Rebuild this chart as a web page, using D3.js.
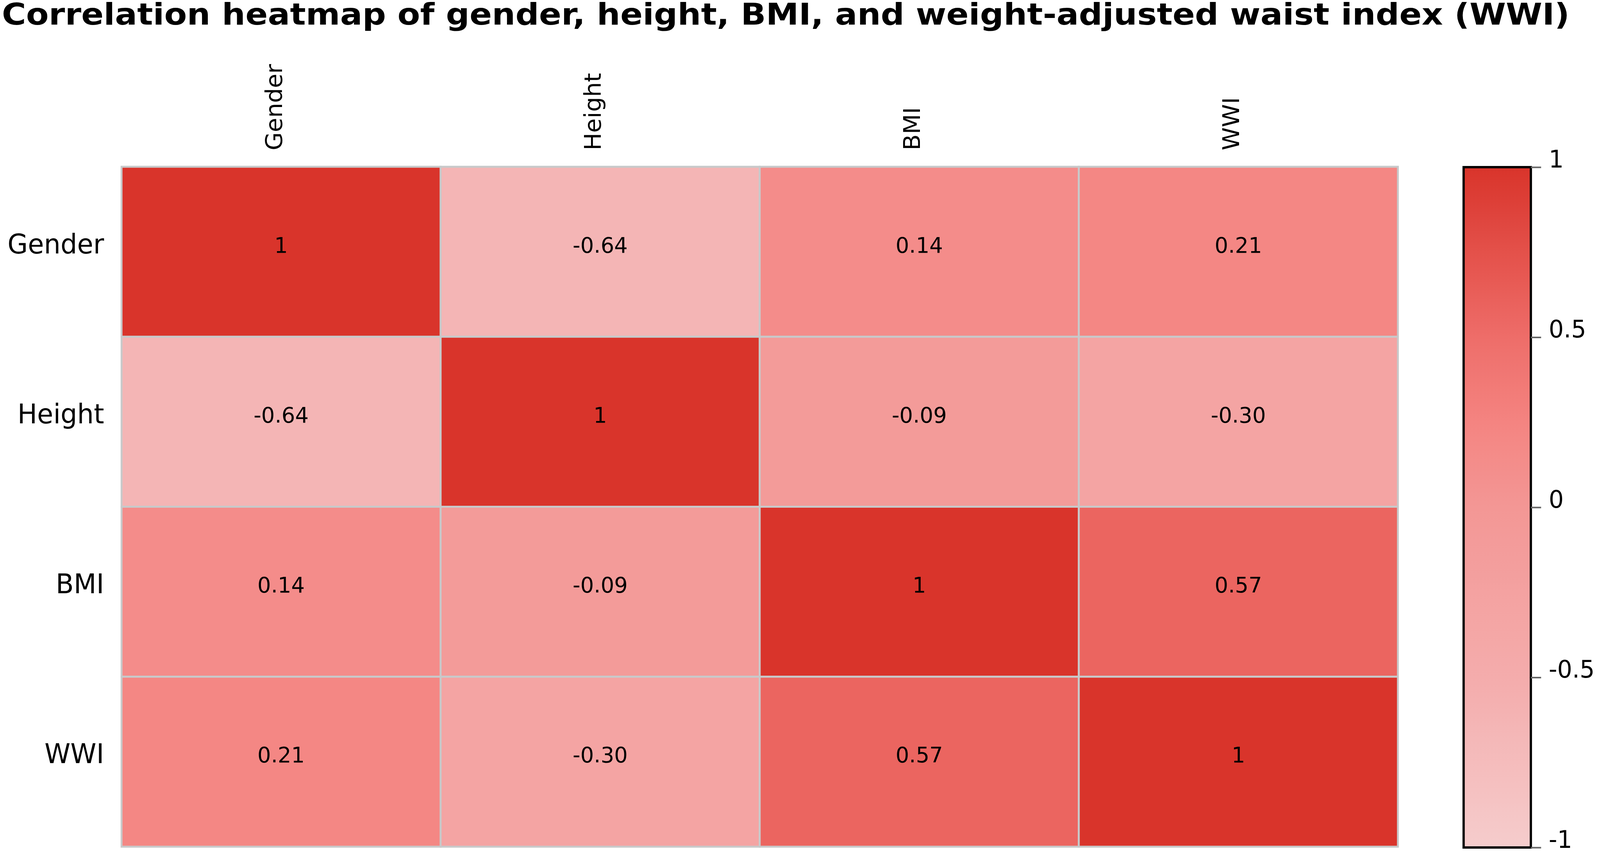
<!DOCTYPE html>
<html>
<head>
<meta charset="utf-8">
<script src="https://cdn.jsdelivr.net/npm/d3@7"></script>
<style>
  html, body { margin: 0; padding: 0; width: 100%; height: 100%; overflow: hidden; background: #fff; }
  svg { display: block; }
  text { font-family: "DejaVu Sans", sans-serif; }
</style>
</head>
<body>
<script>
// correlation heatmap, drawn with d3

// data
var variables = ["Gender", "Height", "BMI", "WWI"];
var genderRow = [1, -0.64, 0.14, 0.21];
var heightRow = [-0.64, 1, -0.09, -0.30];
var bmiRow = [0.14, -0.09, 1, 0.57];
var wwiRow = [0.21, -0.30, 0.57, 1];
var legendTicks = [1, 0.5, 0, -0.5, -1];

window.onload = function(){
    var width = 4212, height = 2179;

    // viewBox so the drawing fits the window whatever its inner size
    var svg = d3.select("body")
        .append("svg")
        .attr("width", "100%")
        .attr("height", "100%")
        .attr("viewBox", "0 0 " + width + " " + height)
        .attr("preserveAspectRatio", "none");

    var rows = [genderRow, heightRow, bmiRow, wwiRow];
    var cells = [];
    rows.forEach(function(r, i){
        r.forEach(function(v, j){
            cells.push({row: variables[i], col: variables[j], value: v});
        });
    });

    var x = d3.scaleBand().domain(variables).range([320, 3680]);
    var y = d3.scaleBand().domain(variables).range([427, 2168]);

    // pale pink -> light coral -> red
    var color = d3.scaleLinear()
        .domain([-1, -0.5, 0, 0.25, 0.5, 1])
        .range(["#f5cccc", "#f4acac", "#f39795", "#f48481", "#ee6d69", "#d9342b"])
        .interpolate(d3.interpolateRgb);

    // title (the reference lettering is a bit wide, so stretch it)
    svg.append("text")
        .attr("x", 5)
        .attr("y", 63)
        .attr("textLength", 4127)
        .attr("lengthAdjust", "spacingAndGlyphs")
        .style("font-weight", "bold")
        .style("font-size", "76px")
        .text("Correlation heatmap of gender, height, BMI, and weight-adjusted waist index (WWI)");

    // cells
    svg.selectAll("rect.cell")
        .data(cells)
        .enter()
        .append("rect")
        .attr("class", "cell")
        .attr("x", function(d){ return x(d.col); })
        .attr("y", function(d){ return y(d.row); })
        .attr("width", x.bandwidth())
        .attr("height", y.bandwidth())
        .style("fill", function(d){ return color(d.value); })
        .style("stroke", "#c8c9ca")
        .style("stroke-width", 5);

    svg.selectAll("text.val")
        .data(cells)
        .enter()
        .append("text")
        .attr("class", "val")
        .attr("x", function(d){ return x(d.col) + x.bandwidth() / 2; })
        .attr("y", function(d){ return y(d.row) + y.bandwidth() / 2 + 2; })
        .attr("text-anchor", "middle")
        .style("font-size", "56px")
        .text(function(d){ return d.value === 1 ? "1" : d.value.toFixed(2); });

    // row labels
    svg.selectAll("text.rowlab")
        .data(variables)
        .enter()
        .append("text")
        .attr("class", "rowlab")
        .attr("x", 274)
        .attr("y", function(d){ return y(d) + y.bandwidth() / 2 + 4; })
        .attr("text-anchor", "end")
        .style("font-size", "69px")
        .text(function(d){ return d; });

    // column labels, rotated
    svg.selectAll("text.collab")
        .data(variables)
        .enter()
        .append("text")
        .attr("class", "collab")
        .attr("transform", function(d){
            return "translate(" + (x(d) + x.bandwidth() / 2 + 2) + ",385) rotate(-90)";
        })
        .attr("text-anchor", "start")
        .style("font-size", "60px")
        .text(function(d){ return d; });

    // colour bar
    var barX = 3853, barW = 177;
    var bar = d3.scaleLinear().domain([-1, 1]).range([2170, 428]);

    var grad = svg.append("defs").append("linearGradient")
        .attr("id", "bargrad")
        .attr("x1", 0).attr("y1", 1)
        .attr("x2", 0).attr("y2", 0);
    grad.selectAll("stop")
        .data(d3.range(-1, 1.001, 0.05))
        .enter()
        .append("stop")
        .attr("offset", function(d){ return (d + 1) / 2; })
        .attr("stop-color", function(d){ return color(d); });

    svg.append("rect")
        .attr("x", barX)
        .attr("y", bar(1))
        .attr("width", barW)
        .attr("height", bar(-1) - bar(1))
        .style("fill", "url(#bargrad)")
        .style("stroke", "#000")
        .style("stroke-width", 6);

    var barAxis = d3.axisRight(bar)
        .tickValues(legendTicks)
        .tickSize(27)
        .tickPadding(20)
        .tickFormat(function(d){ return String(d); });

    var ax = svg.append("g")
        .attr("transform", "translate(" + (barX + barW) + ",0)")
        .call(barAxis);
    ax.select(".domain").remove();
    ax.selectAll("line").style("stroke", "#666").style("stroke-width", 4);
    ax.selectAll("text")
        .attr("dy", 0)
        .style("font-size", "62px")
        .style("font-family", "DejaVu Sans, sans-serif")
        .style("fill", "#000");
};
</script>
</body>
</html>
